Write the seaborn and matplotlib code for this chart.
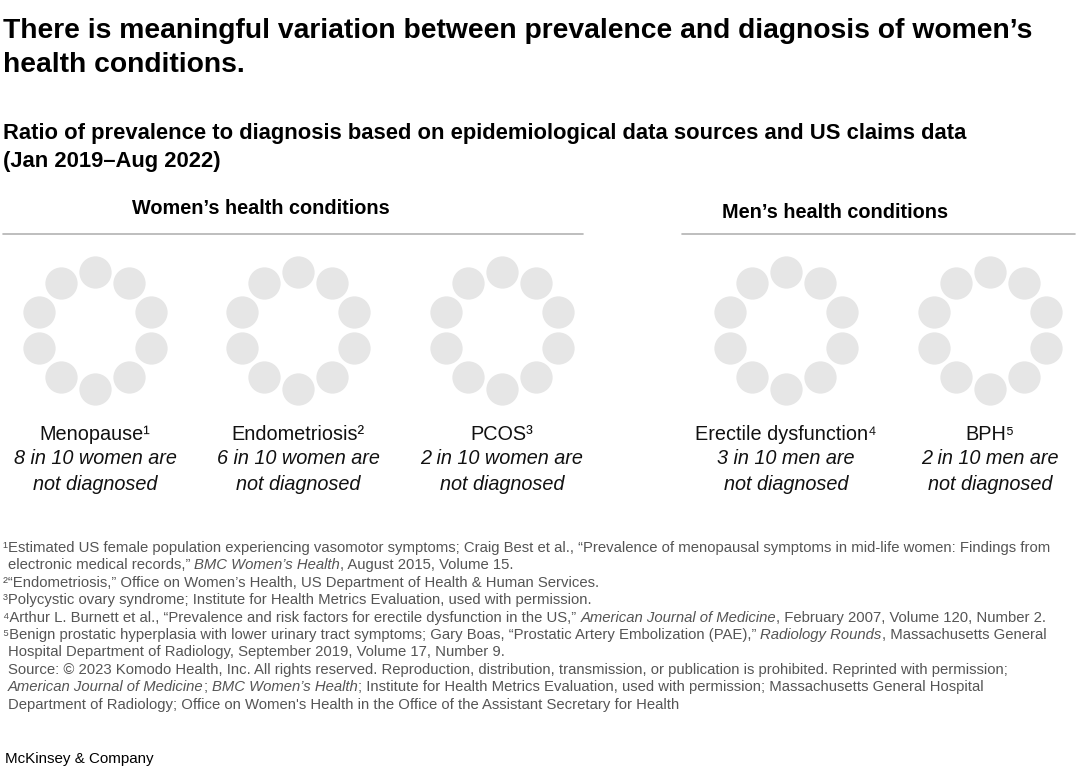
import numpy as np
import pandas as pd
import matplotlib
matplotlib.use("Agg")
import matplotlib.pyplot as plt
import seaborn as sns

# ---------------- data ----------------
conditions = ["Menopause", "Endometriosis", "PCOS", "Erectile dysfunction", "BPH"]
note_marks = ["¹", "²", "³", "⁴", "⁵"]
not_diagnosed = [8, 6, 2, 3, 2]
out_of = [10, 10, 10, 10, 10]
population = ["women", "women", "women", "men", "men"]
group_names = ["Women’s health conditions", "Men’s health conditions"]

title = ["There is meaningful variation between prevalence and diagnosis of women’s",
         "health conditions."]
subtitle = ["Ratio of prevalence to diagnosis based on epidemiological data sources and US claims data",
            "(Jan 2019–Aug 2022)"]

footnotes = [
    (3, [("¹Estimated US female population experiencing vasomotor symptoms; Craig Best et al., “Prevalence of menopausal symptoms in mid-life women: Findings from", "normal")]),
    (8, [("electronic medical records,” ", "normal"), ("BMC Women’s Health", "italic"), (", August 2015, Volume 15.", "normal")]),
    (3, [("²“Endometriosis,” Office on Women’s Health, US Department of Health & Human Services.", "normal")]),
    (3, [("³Polycystic ovary syndrome; Institute for Health Metrics Evaluation, used with permission.", "normal")]),
    (3, [("⁴Arthur L. Burnett et al., “Prevalence and risk factors for erectile dysfunction in the US,” ", "normal"), ("American Journal of Medicine", "italic"), (", February 2007, Volume 120, Number 2.", "normal")]),
    (3, [("⁵Benign prostatic hyperplasia with lower urinary tract symptoms; Gary Boas, “Prostatic Artery Embolization (PAE),” ", "normal"), ("Radiology Rounds", "italic"), (", Massachusetts General", "normal")]),
    (8, [("Hospital Department of Radiology, September 2019, Volume 17, Number 9.", "normal")]),
    (8, [("Source: © 2023 Komodo Health, Inc. All rights reserved. Reproduction, distribution, transmission, or publication is prohibited. Reprinted with permission;", "normal")]),
    (8, [("American Journal of Medicine", "italic"), ("; ", "normal"), ("BMC Women’s Health", "italic"), ("; Institute for Health Metrics Evaluation, used with permission; Massachusetts General Hospital", "normal")]),
    (8, [("Department of Radiology; Office on Women's Health in the Office of the Assistant Secretary for Health", "normal")]),
]
brand = "McKinsey & Company"

# ---------------- layout ----------------
W, H = 1080, 782
sns.set_theme(style="white")
plt.rcParams["font.family"] = ["Liberation Sans", "DejaVu Sans"]

fig = plt.figure(figsize=(W / 100, H / 100), dpi=100)
ax = fig.add_axes([0, 0, 1, 1])
ax.set_xlim(0, W)
ax.set_ylim(H, 0)
ax.axis("off")

ring_x = [95, 298, 502, 786, 990]
ring_y = 330
ring_r = 58.5
rows = []
for cond, n, cx in zip(conditions, out_of, ring_x):
    for k in range(n):
        a = np.deg2rad(90 - 360 / n * k)
        rows.append({"condition": cond, "x": cx + ring_r * np.cos(a), "y": ring_y - ring_r * np.sin(a)})
circles = pd.DataFrame(rows)
sns.scatterplot(data=circles, x="x", y="y", color="#e6e6e6", s=540, linewidth=0,
                legend=False, ax=ax)

# titles
ax.text(3, 31, title[0], fontsize=20.3, fontweight="bold", color="#000000", va="center")
ax.text(3, 65, title[1], fontsize=20.3, fontweight="bold", color="#000000", va="center")
ax.text(3, 134, subtitle[0], fontsize=15.8, fontweight="bold", color="#000000", va="center")
ax.text(3, 161, subtitle[1], fontsize=15.8, fontweight="bold", color="#000000", va="center")

# group headers and rules
ax.text(261, 208, group_names[0], fontsize=14.3, fontweight="bold", ha="center", va="center", color="#000")
ax.plot([3, 583], [234, 234], color="#b3b3b3", lw=1.2)
ax.text(835, 212, group_names[1], fontsize=14.3, fontweight="bold", ha="center", va="center", color="#000")
ax.plot([682, 1075], [234, 234], color="#b3b3b3", lw=1.2)

# condition labels
for cond, mark, nd, tot, pop, cx in zip(conditions, note_marks, not_diagnosed, out_of, population, ring_x):
    ax.text(cx, 435, cond + mark, fontsize=14.3, ha="center", va="center", color="#111")
    ax.text(cx, 459, f"{nd} in {tot} {pop} are", fontsize=14.3, style="italic", ha="center", va="center", color="#111")
    ax.text(cx, 484, "not diagnosed", fontsize=14.3, style="italic", ha="center", va="center", color="#111")

# footnotes (rich text)
fig.canvas.draw()
renderer = fig.canvas.get_renderer()
y0, dy = 548, 17.4
for i, (x0, segs) in enumerate(footnotes):
    x = x0
    y = y0 + i * dy
    for txt, st in segs:
        t = ax.text(x, y, txt, fontsize=10.75, style=st, color="#555555", va="center")
        bb = t.get_window_extent(renderer=renderer)
        x += bb.width

ax.text(5, 759, brand, fontsize=10.9, color="#000", va="center")

fig.savefig("out.png", dpi=100, facecolor="white")
